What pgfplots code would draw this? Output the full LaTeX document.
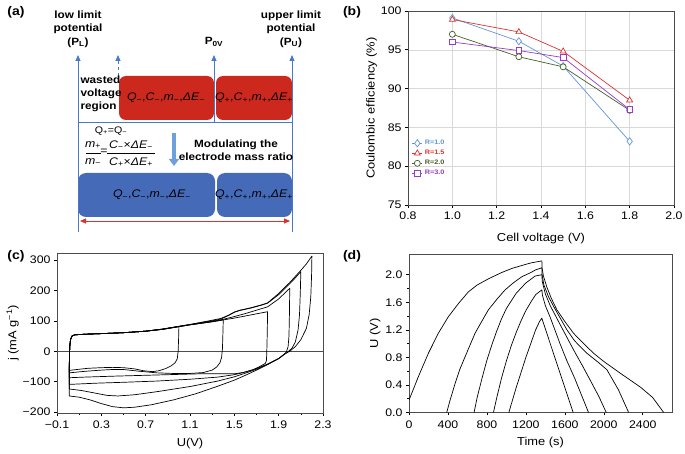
\documentclass[border=0pt]{standalone}
\usepackage{fontspec}
\setmainfont{Liberation Sans}[FakeStretch=1.12]
\usepackage{pgfplots}
\pgfplotsset{compat=1.18}
\usetikzlibrary{arrows.meta}

\definecolor{redbox}{RGB}{204,40,30}
\definecolor{bluebox}{RGB}{68,106,184}
\definecolor{vline}{RGB}{74,120,200}
\definecolor{lblue}{RGB}{110,160,220}
\definecolor{redarrow}{RGB}{220,50,40}
\definecolor{rone}{RGB}{95,150,215}
\definecolor{rtwo}{RGB}{220,50,50}
\definecolor{rthree}{RGB}{70,95,40}
\definecolor{rfour}{RGB}{150,60,200}

\pgfplotsset{
  panel/.style={
    scale only axis, anchor=north west,
    tick align=outside, tick pos=left,
    /pgf/number format/assume math mode=true,
    /pgf/number format/1000 sep={},
    tick label style={font=\fontsize{11}{12}\selectfont},
    label style={font=\fontsize{11.5}{13}\selectfont},
    axis line style={black!70},
    major tick length=3pt, minor tick length=1.8pt,
    every tick/.style={black, line width=0.6pt},
  },
  trace/.style={black, line width=0.7pt, line join=round, no markers},
}

\begin{document}
\begin{tikzpicture}
\useasboundingbox (0pt,0pt) rectangle (685pt,453pt);
\coordinate (posb) at (408pt,442pt);
\coordinate (posc) at (57pt,200pt);
\coordinate (posd) at (409pt,199pt);

% ---------- (a) schematic, in picture pixels from the top ----------
\begin{scope}[shift={(0pt,453pt)}, x=1pt, y=-1pt]
\node[font=\bfseries\fontsize{12.5}{14}\selectfont] at (16,12) {(a)};
\fill[redbox, rounded corners=7pt] (119,76) rectangle (214,120);
\fill[redbox, rounded corners=7pt] (216,76) rectangle (292,120);
\fill[bluebox, rounded corners=8pt] (78,173) rectangle (215,217);
\fill[bluebox, rounded corners=8pt] (217,173) rectangle (292,217);
\draw[vline, line width=0.8pt, -{Triangle[length=6pt,width=5pt]}] (78,232) -- (78,55);
\draw[vline, line width=0.8pt, -{Triangle[length=6pt,width=5pt]}] (292,232) -- (292,55);
\draw[vline, line width=0.8pt, -{Triangle[length=6pt,width=5pt]}] (214,122) -- (214,55);
\draw[vline, line width=0.8pt, dashed] (118,76) -- (118,61);
\draw[vline, line width=0.8pt, -{Triangle[length=6pt,width=5pt]}] (118,62) -- (118,55);
\draw[vline, line width=0.8pt] (78,122) -- (292,122);
\draw[redarrow, line width=0.9pt, {Triangle[length=6pt,width=5pt]}-{Triangle[length=6pt,width=5pt]}] (80,221) -- (290,221);
\draw[lblue, line width=4pt, -{Triangle[length=7pt,width=10pt]}] (174,133) -- (174,166);

\begin{scope}[font=\bfseries\fontsize{10.5}{13.5}\selectfont]
\node[align=center] at (78,29) {low limit\\potential\\(P\textsubscript{L})};
\node[align=center] at (291,29) {upper limit\\potential\\(P\textsubscript{U})};
\node at (214,42) {P\textsubscript{0V}};
\node[align=left, anchor=west, font=\bfseries\fontsize{10.5}{13}\selectfont] at (77,94) {wasted\\voltage\\region};
\node[align=center, font=\bfseries\fontsize{10.5}{13}\selectfont] at (236,150) {Modulating the\\electrode mass ratio};
\end{scope}

\begin{scope}[font=\fontsize{11}{12}\selectfont]
\node at (166,98) {\textit{Q}\textsubscript{−},\textit{C}\textsubscript{−},\textit{m}\textsubscript{−},\textit{ΔE}\textsubscript{−}};
\node at (254,98) {\textit{Q}\textsubscript{+},\textit{C}\textsubscript{+},\textit{m}\textsubscript{+},\textit{ΔE}\textsubscript{+}};
\node at (152,195) {\textit{Q}\textsubscript{−},\textit{C}\textsubscript{−},\textit{m}\textsubscript{−},\textit{ΔE}\textsubscript{−}};
\node at (254,195) {\textit{Q}\textsubscript{+},\textit{C}\textsubscript{+},\textit{m}\textsubscript{+},\textit{ΔE}\textsubscript{+}};
\end{scope}

\node[font=\fontsize{9.5}{11}\selectfont] at (111,131) {Q\textsubscript{+}=Q\textsubscript{−}};
\begin{scope}[font=\fontsize{11}{12}\selectfont]
\node at (93,145) {\textit{m}\textsubscript{+}};
\node at (93,162) {\textit{m}\textsubscript{−}};
\draw[line width=0.5pt] (86,153.5) -- (101,153.5);
\node at (104,152) {=};
\node at (131,145) {\textit{C}\textsubscript{−}×\textit{ΔE}\textsubscript{−}};
\node at (131,162) {\textit{C}\textsubscript{+}×\textit{ΔE}\textsubscript{+}};
\draw[line width=0.5pt] (107,153.5) -- (155,153.5);
\end{scope}

\node[font=\bfseries\fontsize{12.5}{14}\selectfont] at (352,12) {(b)};
\node[font=\bfseries\fontsize{12.5}{14}\selectfont] at (16,256) {(c)};
\node[font=\bfseries\fontsize{12.5}{14}\selectfont] at (352,256) {(d)};
\end{scope}

% ---------- (b) coulombic efficiency ----------
\begin{axis}[panel,
  at={(posb)}, width=266pt, height=194pt,
  xmin=0.8, xmax=2.0, ymin=75, ymax=100,
  xtick={0.8,1.0,1.2,1.4,1.6,1.8,2.0}, ytick={75,80,85,90,95,100},
  xticklabel style={/pgf/number format/.cd, fixed, fixed zerofill, precision=1},
  grid=major, grid style={gray!30, line width=0.5pt},
  xlabel={Cell voltage (V)}, ylabel={Coulombic efficiency (\%)},
  xlabel style={yshift=-7pt}, ylabel style={yshift=-3pt},
  legend style={draw=none, fill=none, at={(0.01,0.35)}, anchor=north west,
    font=\bfseries\fontsize{6.5}{7.5}\selectfont, row sep=0pt,
    inner sep=1pt},
  legend cell align=left,
  legend image code/.code={\draw[mark repeat=2,mark phase=2] plot coordinates {(0cm,0cm)(0.18cm,0cm)(0.36cm,0cm)};},
]
\addplot[rone, line width=0.7pt, mark=diamond*, mark size=3.6pt, mark options={fill=white}] coordinates {(1.0,99.1) (1.3,96.1) (1.5,92.9) (1.8,83.2)};
\addplot[rtwo, line width=0.7pt, mark=triangle*, mark size=3.4pt, mark options={fill=white}] coordinates {(1.0,98.9) (1.3,97.3) (1.5,94.8) (1.8,88.5)};
\addplot[rthree, line width=0.7pt, mark=*, mark size=3pt, mark options={fill=white}] coordinates {(1.0,97.0) (1.3,94.1) (1.5,92.8) (1.8,87.2)};
\addplot[rfour, line width=0.7pt, mark=square*, mark size=2.8pt, mark options={fill=white}] coordinates {(1.0,96.0) (1.3,94.9) (1.5,94.0) (1.8,87.3)};
\legend{\textcolor{rone}{R=1.0},\textcolor{rtwo}{R=1.5},\textcolor{rthree}{R=2.0},\textcolor{rfour}{R=3.0}}
\end{axis}

% ---------- (c) CV ----------
\begin{axis}[panel,
  at={(posc)}, width=266pt, height=160pt,
  xmin=-0.1, xmax=2.3, ymin=-203, ymax=323,
  xtick={-0.1,0.3,0.7,1.1,1.5,1.9,2.3},
  xticklabels={−0.1,0.3,0.7,1.1,1.5,1.9,2.3},
  ytick={-200,-100,0,100,200,300},
  yticklabels={−200,−100,0,100,200,300},
  minor x tick num=1,
  xticklabel style={yshift=-1.5pt},
  xlabel={U(V)}, ylabel={j (mA g\textsuperscript{−1})},
  xlabel style={yshift=-2pt}, ylabel style={yshift=-3pt},
]
\addplot[trace, black!70] coordinates {(-0.1,0) (2.3,0)};
% 0 - 1.0 V
\addplot[trace] coordinates {(0.01,-63) (0.012,-20) (0.015,15) (0.022,38) (0.035,50) (0.06,54) (0.15,56) (0.3,58) (0.5,61) (0.7,66) (0.85,72) (1.0,81)
  (0.997,40) (0.993,0) (0.985,-25) (0.965,-38) (0.93,-48) (0.88,-57) (0.82,-64) (0.76,-67) (0.68,-64) (0.6,-58) (0.5,-54) (0.4,-53) (0.3,-54) (0.18,-56) (0.08,-60) (0.01,-63)};
% 0 - 1.4 V
\addplot[trace] coordinates {(0.01,-71) (0.012,-20) (0.015,15) (0.022,38) (0.035,50) (0.06,54) (0.15,56) (0.3,58) (0.5,61) (0.7,66) (0.85,72) (1.0,81) (1.1,87) (1.2,92) (1.3,97) (1.4,103)
  (1.397,60) (1.393,10) (1.385,-20) (1.37,-38) (1.34,-52) (1.3,-62) (1.22,-70) (1.1,-73) (0.95,-73) (0.8,-71) (0.65,-66) (0.5,-60) (0.4,-60) (0.3,-62) (0.15,-66) (0.01,-71)};
% 0 - 1.8 V
\addplot[trace] coordinates {(0.01,-87) (0.012,-20) (0.015,15) (0.022,38) (0.035,50) (0.06,54) (0.15,56) (0.3,58) (0.5,61) (0.7,66) (0.85,72) (1.0,81) (1.1,87) (1.2,92) (1.3,97) (1.4,103) (1.5,109) (1.6,116) (1.7,123) (1.8,130)
  (1.797,60) (1.793,0) (1.79,-30) (1.78,-40) (1.72,-52) (1.66,-62) (1.58,-70) (1.5,-74) (1.35,-74) (1.2,-74) (1.0,-76) (0.7,-79) (0.4,-82) (0.15,-85) (0.01,-87)};
% 0 - 2.0 V
\addplot[trace] coordinates {(0.01,-109) (0.012,-20) (0.015,15) (0.022,38) (0.035,50) (0.06,54) (0.15,56) (0.3,58) (0.5,61) (0.7,66) (0.85,72) (1.0,81) (1.1,87) (1.2,92) (1.3,98) (1.4,105) (1.5,114) (1.6,124) (1.7,135) (1.8,146) (1.9,172) (2.0,207)
  (1.997,120) (1.993,50) (1.985,15) (1.97,-2) (1.95,-10) (1.9,-24) (1.8,-42) (1.7,-57) (1.6,-68) (1.5,-77) (1.35,-85) (1.1,-92) (0.8,-98) (0.5,-102) (0.25,-105) (0.01,-109)};
% 0 - 2.1 V
\addplot[trace] coordinates {(0.01,-124) (0.012,-20) (0.015,15) (0.022,38) (0.035,50) (0.06,54) (0.15,56) (0.3,58) (0.5,61) (0.7,66) (0.85,73) (1.0,82) (1.1,88) (1.2,94) (1.3,100) (1.38,106) (1.45,118) (1.5,128) (1.55,134) (1.65,142) (1.75,152) (1.8,158) (1.9,186) (2.0,222) (2.05,241) (2.1,262)
  (2.095,190) (2.088,120) (2.075,70) (2.05,30) (2.02,10) (1.98,-3) (1.95,-10) (1.9,-24) (1.8,-43) (1.7,-59) (1.6,-72) (1.5,-84) (1.35,-98) (1.1,-116) (0.8,-133) (0.6,-143) (0.45,-147) (0.35,-145) (0.25,-138) (0.12,-129) (0.01,-124)};
% 0 - 2.2 V
\addplot[trace] coordinates {(0.01,-147) (0.012,-20) (0.015,15) (0.022,38) (0.035,50) (0.06,54) (0.15,56) (0.3,58) (0.5,61) (0.7,66) (0.85,73) (1.0,82) (1.1,88) (1.2,95) (1.3,102) (1.38,108) (1.45,119) (1.5,129) (1.55,135) (1.65,143) (1.75,153) (1.8,159) (1.9,190) (2.0,226) (2.1,266) (2.15,287) (2.2,313)
  (2.197,250) (2.19,180) (2.175,120) (2.15,75) (2.1,38) (2.05,15) (2.0,0) (1.96,-8) (1.9,-24) (1.8,-44) (1.7,-62) (1.6,-79) (1.5,-95) (1.35,-115) (1.15,-140) (0.95,-160) (0.75,-176) (0.6,-184) (0.5,-186) (0.4,-182) (0.3,-172) (0.2,-160) (0.1,-151) (0.01,-147)};
\end{axis}

% ---------- (d) GCD ----------
\begin{axis}[panel,
  at={(posd)}, width=263pt, height=158.5pt,
  xmin=0, xmax=2700, ymin=0, ymax=2.3,
  xtick={0,400,800,1200,1600,2000,2400},
  ytick={0,0.4,0.8,1.2,1.6,2.0},
  yticklabel style={/pgf/number format/.cd, fixed, fixed zerofill, precision=1},
  minor y tick num=1,
  xticklabel style={yshift=-1.5pt},
  xlabel={Time (s)}, ylabel={U (V)},
  xlabel style={yshift=-2pt}, ylabel style={yshift=-2pt},
]
\addplot[trace] coordinates {(0,0.18) (96,0.52) (199,0.86) (301,1.15) (404,1.39) (507,1.58) (609,1.75) (700,1.85) (815,1.94) (950,2.03) (1055,2.09) (1150,2.13) (1250,2.17) (1364,2.2)
  (1366,2.1) (1380,1.98) (1415,1.82) (1460,1.66) (1518,1.49) (1600,1.32) (1689,1.15) (1800,0.99) (1895,0.86) (2000,0.74) (2100,0.64) (2169,0.57) (2374,0.37) (2500,0.22) (2615,0)};
\addplot[trace] coordinates {(387,0) (420,0.17) (473,0.42) (520,0.62) (576,0.81) (678,1.15) (750,1.33) (815,1.49) (900,1.64) (987,1.78) (1070,1.88) (1158,1.97) (1250,2.03) (1300,2.07) (1364,2.1)
  (1366,2.0) (1385,1.85) (1432,1.68) (1500,1.5) (1621,1.2) (1700,1.04) (1826,0.86) (1950,0.72) (2032,0.62) (2150,0.33) (2255,0)};
\addplot[trace] coordinates {(668,0) (700,0.22) (750,0.5) (800,0.76) (850,0.98) (900,1.18) (950,1.36) (1000,1.51) (1100,1.73) (1200,1.88) (1295,1.98) (1364,2.0)
  (1368,1.9) (1400,1.72) (1450,1.55) (1550,1.28) (1689,0.91) (1780,0.68) (1860,0.47) (1950,0.23) (2025,0)};
\addplot[trace] coordinates {(867,0) (900,0.21) (950,0.5) (1000,0.75) (1050,0.97) (1100,1.16) (1150,1.33) (1200,1.48) (1250,1.6) (1300,1.71) (1364,1.78)
  (1370,1.7) (1400,1.55) (1450,1.38) (1550,1.0) (1621,0.75) (1700,0.5) (1843,0)};
\addplot[trace] coordinates {(1025,0) (1100,0.36) (1150,0.58) (1200,0.8) (1250,1.0) (1300,1.2) (1340,1.32) (1364,1.37)
  (1370,1.34) (1685,0)};
\end{axis}
\end{tikzpicture}
\end{document}
